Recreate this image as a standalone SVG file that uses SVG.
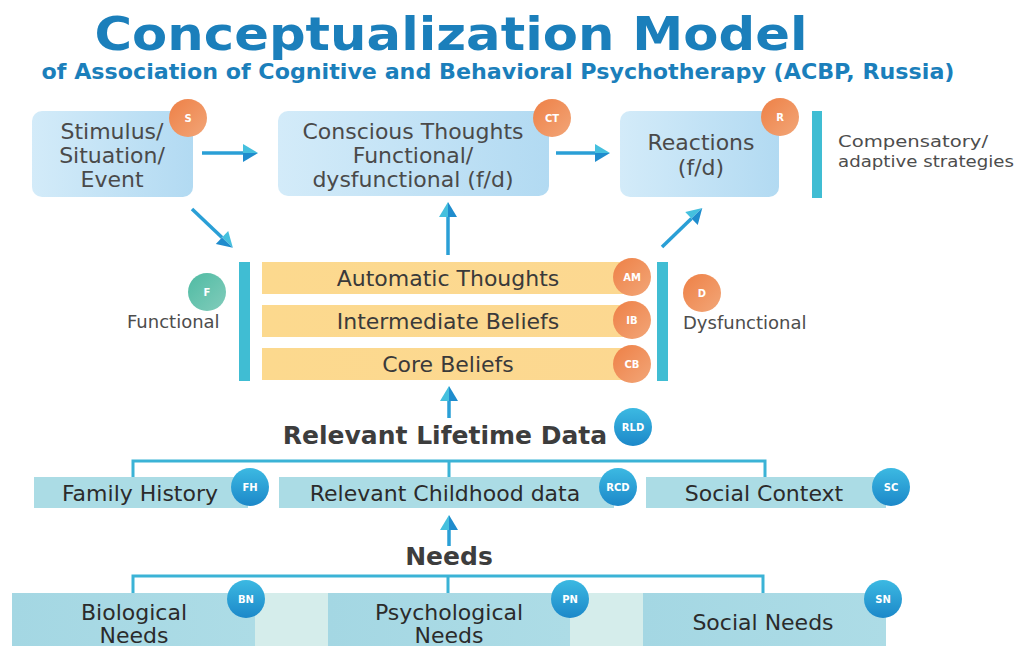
<svg xmlns="http://www.w3.org/2000/svg" width="1017" height="646" viewBox="0 0 1017 646">
  <style>
    .title { font-family: "DejaVu Sans", "Liberation Sans", sans-serif; font-weight: bold; fill: #1b7fbb; }
    .t { font-family: "DejaVu Sans", "Liberation Sans", sans-serif; font-size: 22px; text-anchor: middle; }
    .top { fill: #4a4a4a; }
    .yel { fill: #3a3a3a; }
    .row { fill: #2b2b2b; }
    .side { font-family: "DejaVu Sans", "Liberation Sans", sans-serif; font-size: 18px; fill: #4d4d4d; }
    .comp { font-family: "DejaVu Sans", "Liberation Sans", sans-serif; font-size: 16.5px; fill: #4d4d4d; }
    .head { font-family: "DejaVu Sans", "Liberation Sans", sans-serif; font-size: 25px; font-weight: bold; fill: #3d3d3d; text-anchor: middle; }
    .bt { font-family: "DejaVu Sans", "Liberation Sans", sans-serif; font-size: 10px; font-weight: bold; fill: #ffffff; text-anchor: middle; }
    .conn { stroke: #2a9fd6; stroke-width: 3.5; fill: none; }
    .brk { stroke: #3bb3d6; stroke-width: 3; fill: none; }
    .vbar { fill: #40bdd3; }
    .ybar { fill: url(#yg); }
    .tbox { fill: url(#bg); }
    .rbox { fill: #abdce5; }
    .nbox { fill: url(#ng); }
  </style>
  <defs>
    <linearGradient id="bg" x1="0" y1="0" x2="1" y2="0">
      <stop offset="0" stop-color="#d3ebf9"/>
      <stop offset="1" stop-color="#b2daf2"/>
    </linearGradient>
    <linearGradient id="yg" x1="0" y1="0" x2="1" y2="0">
      <stop offset="0" stop-color="#fcd98e"/>
      <stop offset="1" stop-color="#fcd891"/>
    </linearGradient>
    <linearGradient id="ng" x1="0" y1="0" x2="1" y2="0">
      <stop offset="0" stop-color="#a4d7e3"/>
      <stop offset="1" stop-color="#addce6"/>
    </linearGradient>
    <linearGradient id="og" x1="0" y1="0" x2="1" y2="1">
      <stop offset="0" stop-color="#ee8046"/>
      <stop offset="1" stop-color="#f2a678"/>
    </linearGradient>
    <linearGradient id="blg" x1="0" y1="0" x2="0" y2="1">
      <stop offset="0" stop-color="#3cb9e2"/>
      <stop offset="1" stop-color="#1c88c9"/>
    </linearGradient>
    <linearGradient id="tg" x1="0" y1="0" x2="1" y2="1">
      <stop offset="0" stop-color="#4fbba3"/>
      <stop offset="1" stop-color="#82ccbb"/>
    </linearGradient>
    <marker id="ah" markerUnits="userSpaceOnUse" markerWidth="16" markerHeight="18" refX="0" refY="9" orient="auto" overflow="visible">
      <path d="M0,0 L15,9 L0,9 Z" fill="#45c0de"/>
      <path d="M0,9 L15,9 L0,18 Z" fill="#1f8ccd"/>
    </marker>
  </defs>

  <!-- Title -->
  <text class="title" x="451" y="50" font-size="47" text-anchor="middle" textLength="713" lengthAdjust="spacingAndGlyphs">Conceptualization Model</text>
  <text class="title" x="498" y="79" font-size="22" text-anchor="middle" textLength="913" lengthAdjust="spacingAndGlyphs">of Association of Cognitive and Behavioral Psychotherapy (ACBP, Russia)</text>

  <!-- Connectors -->
  <g id="connectors">
    <line class="conn" x1="202" y1="153" x2="243" y2="153" marker-end="url(#ah)"/>
    <line class="conn" x1="556" y1="153" x2="595" y2="153" marker-end="url(#ah)"/>
    <line class="conn" x1="192" y1="209" x2="222" y2="237.5" marker-end="url(#ah)"/>
    <line class="conn" x1="448" y1="255" x2="448" y2="217" marker-end="url(#ah)"/>
    <line class="conn" x1="662" y1="247" x2="691.5" y2="218.5" marker-end="url(#ah)"/>
    <line class="conn" x1="449" y1="418" x2="449" y2="401" marker-end="url(#ah)"/>
    <line class="conn" x1="449" y1="546" x2="449" y2="530" marker-end="url(#ah)"/>
    <path class="brk" d="M133,478 V461 H765 V478 M449,461 V478"/>
    <path class="brk" d="M133,593 V576 H763 V593 M448,576 V593"/>
  </g>

  <!-- Top row -->
  <g id="stimulus">
    <rect class="tbox" x="32" y="111" width="161" height="86" rx="10"/>
    <text class="t top" x="112" y="139">Stimulus/</text>
    <text class="t top" x="112" y="163">Situation/</text>
    <text class="t top" x="112" y="187">Event</text>
    <circle cx="188" cy="118" r="19" fill="url(#og)"/>
    <text class="bt" x="188" y="122">S</text>
  </g>
  <g id="conscious">
    <rect class="tbox" x="278" y="111" width="271" height="85" rx="10"/>
    <text class="t top" x="413" y="139">Conscious Thoughts</text>
    <text class="t top" x="413" y="163">Functional/</text>
    <text class="t top" x="413" y="187">dysfunctional (f/d)</text>
    <circle cx="552" cy="118" r="19" fill="url(#og)"/>
    <text class="bt" x="552" y="122">CT</text>
  </g>
  <g id="reactions">
    <rect class="tbox" x="620" y="111" width="159" height="86" rx="10"/>
    <text class="t top" x="701" y="150">Reactions</text>
    <text class="t top" x="701" y="175">(f/d)</text>
    <circle cx="780" cy="117" r="19" fill="url(#og)"/>
    <text class="bt" x="780" y="121">R</text>
  </g>
  <g id="compensatory">
    <rect class="vbar" x="812" y="111" width="10" height="87"/>
    <text class="comp" x="838" y="147" textLength="150" lengthAdjust="spacingAndGlyphs">Compensatory/</text>
    <text class="comp" x="838" y="167" textLength="176" lengthAdjust="spacingAndGlyphs">adaptive strategies</text>
  </g>

  <!-- Middle band -->
  <g id="functional">
    <circle cx="207" cy="292" r="19" fill="url(#tg)"/>
    <text class="bt" x="207" y="296">F</text>
    <text class="side" x="127" y="328">Functional</text>
    <rect class="vbar" x="239" y="262" width="11" height="119"/>
  </g>
  <g id="automatic-thoughts">
    <rect class="ybar" x="262" y="262" width="378" height="32"/>
    <text class="t yel" x="448" y="286">Automatic Thoughts</text>
    <circle cx="632" cy="277" r="19" fill="url(#og)"/>
    <text class="bt" x="632" y="281">AM</text>
  </g>
  <g id="intermediate-beliefs">
    <rect class="ybar" x="262" y="305" width="378" height="32"/>
    <text class="t yel" x="448" y="329">Intermediate Beliefs</text>
    <circle cx="632" cy="320" r="19" fill="url(#og)"/>
    <text class="bt" x="632" y="324">IB</text>
  </g>
  <g id="core-beliefs">
    <rect class="ybar" x="262" y="348" width="378" height="32"/>
    <text class="t yel" x="448" y="372">Core Beliefs</text>
    <circle cx="632" cy="364" r="19" fill="url(#og)"/>
    <text class="bt" x="632" y="368">CB</text>
  </g>
  <g id="dysfunctional">
    <rect class="vbar" x="657" y="262" width="11" height="119"/>
    <circle cx="702" cy="293" r="19" fill="url(#og)"/>
    <text class="bt" x="702" y="297">D</text>
    <text class="side" x="683" y="329">Dysfunctional</text>
  </g>

  <!-- Relevant Lifetime Data -->
  <g id="rld">
    <text class="head" x="445" y="444">Relevant Lifetime Data</text>
    <circle cx="633" cy="427" r="19" fill="url(#blg)"/>
    <text class="bt" x="633" y="431">RLD</text>
  </g>
  <g id="family-history">
    <rect class="rbox" x="34" y="477" width="214" height="31"/>
    <text class="t row" x="140" y="501">Family History</text>
    <circle cx="250" cy="487" r="19" fill="url(#blg)"/>
    <text class="bt" x="250" y="491">FH</text>
  </g>
  <g id="childhood-data">
    <rect class="rbox" x="279" y="477" width="335" height="31"/>
    <text class="t row" x="445" y="501">Relevant Childhood data</text>
    <circle cx="618" cy="487" r="19" fill="url(#blg)"/>
    <text class="bt" x="618" y="491">RCD</text>
  </g>
  <g id="social-context">
    <rect class="rbox" x="646" y="477" width="240" height="31"/>
    <text class="t row" x="764" y="501">Social Context</text>
    <circle cx="891" cy="487" r="19" fill="url(#blg)"/>
    <text class="bt" x="891" y="491">SC</text>
  </g>

  <!-- Needs -->
  <g id="needs">
    <text class="head" x="449" y="565">Needs</text>
  </g>
  <rect x="12" y="593" width="874" height="53" fill="#d5edeb"/>
  <g id="biological-needs">
    <rect class="nbox" x="12" y="593" width="243" height="53"/>
    <text class="t row" x="134" y="620">Biological</text>
    <text class="t row" x="134" y="643">Needs</text>
    <circle cx="246" cy="599" r="19" fill="url(#blg)"/>
    <text class="bt" x="246" y="603">BN</text>
  </g>
  <g id="psychological-needs">
    <rect class="nbox" x="328" y="593" width="242" height="53"/>
    <text class="t row" x="449" y="620">Psychological</text>
    <text class="t row" x="449" y="643">Needs</text>
    <circle cx="570" cy="599" r="19" fill="url(#blg)"/>
    <text class="bt" x="570" y="603">PN</text>
  </g>
  <g id="social-needs">
    <rect class="nbox" x="643" y="593" width="243" height="53"/>
    <text class="t row" x="763" y="630">Social Needs</text>
    <circle cx="883" cy="599" r="19" fill="url(#blg)"/>
    <text class="bt" x="883" y="603">SN</text>
  </g>
</svg>
